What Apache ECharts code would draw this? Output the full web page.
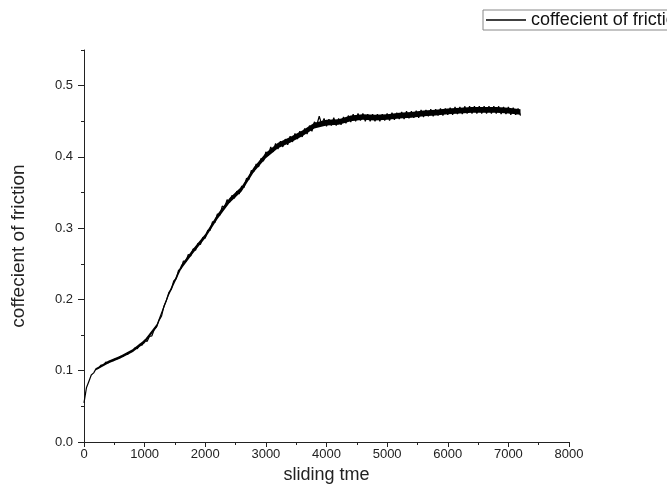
<!DOCTYPE html>
<html>
<head>
<meta charset="utf-8">
<script src="https://cdn.jsdelivr.net/npm/echarts@6/dist/echarts.min.js"></script>
<style>
  html, body { margin: 0; padding: 0; background: #fff; }
  #chart { width: 667px; height: 501px; }
</style>
</head>
<body>
<div id="chart"></div>
<script>
// noisy trace: one sample every 40 units of sliding time, 0..7200
const timeStep = 40
const friction = [
  0.055, 0.076, 0.085, 0.094, 0.097, 0.103, 0.104, 0.108, 0.108, 0.112,
  0.111, 0.114, 0.114, 0.117, 0.117, 0.120, 0.120, 0.123, 0.123, 0.127,
  0.127, 0.132, 0.131, 0.137, 0.136, 0.143, 0.141, 0.148, 0.149, 0.158,
  0.162, 0.171, 0.177, 0.191, 0.199, 0.210, 0.214, 0.226, 0.229, 0.241,
  0.243, 0.254, 0.253, 0.263, 0.261, 0.271, 0.269, 0.279, 0.277, 0.287,
  0.286, 0.297, 0.297, 0.309, 0.308, 0.320, 0.318, 0.331, 0.329, 0.340,
  0.336, 0.346, 0.342, 0.352, 0.348, 0.359, 0.357, 0.370, 0.368, 0.381,
  0.379, 0.390, 0.386, 0.398, 0.394, 0.407, 0.402, 0.414, 0.407, 0.419,
  0.411, 0.422, 0.414, 0.425, 0.417, 0.429, 0.421, 0.433, 0.425, 0.436,
  0.428, 0.440, 0.432, 0.444, 0.436, 0.449, 0.445, 0.457, 0.446, 0.454,
  0.443, 0.453, 0.444, 0.455, 0.444, 0.454, 0.445, 0.456, 0.447, 0.458,
  0.449, 0.460, 0.450, 0.461, 0.451, 0.461, 0.450, 0.460, 0.450, 0.460,
  0.450, 0.460, 0.450, 0.460, 0.451, 0.461, 0.451, 0.462, 0.452, 0.462,
  0.453, 0.463, 0.453, 0.464, 0.454, 0.464, 0.455, 0.465, 0.455, 0.466,
  0.456, 0.466, 0.457, 0.467, 0.457, 0.467, 0.458, 0.468, 0.458, 0.468,
  0.459, 0.469, 0.459, 0.470, 0.460, 0.470, 0.460, 0.471, 0.461, 0.471,
  0.461, 0.471, 0.461, 0.471, 0.461, 0.471, 0.461, 0.471, 0.461, 0.471,
  0.461, 0.471, 0.460, 0.470, 0.460, 0.470, 0.459, 0.469, 0.459, 0.468,
  0.458
]
// noise band of the trace: centre and half thickness every 200 units, 200..7200
const bandStart = 200
const bandStep = 200
const bandBase = [
  0.102, 0.112, 0.119, 0.128, 0.141, 0.163, 0.208, 0.245, 0.268,
  0.289, 0.316, 0.339, 0.355, 0.382, 0.402, 0.416, 0.424, 0.433, 0.444,
  0.448, 0.449, 0.454, 0.456, 0.455, 0.456, 0.458, 0.459, 0.461, 0.462,
  0.464, 0.465, 0.466, 0.466, 0.466, 0.465, 0.463
]
const bandHalf = [
  0.0015, 0.002, 0.002, 0.002, 0.0025, 0.0025, 0.0025, 0.003, 0.003,
  0.003, 0.0035, 0.0035, 0.0035, 0.0035, 0.004, 0.004, 0.004, 0.004, 0.004,
  0.004, 0.004, 0.004, 0.004, 0.004, 0.004, 0.004, 0.004, 0.004, 0.004,
  0.004, 0.004, 0.004, 0.004, 0.004, 0.004, 0.004
]
const yMajorTicks = [0, 0.1, 0.2, 0.3, 0.4, 0.5]

const points = friction.map((v, i) => [i * timeStep, v])

const font = 'Liberation Sans, Arial, sans-serif'
const chart = echarts.init(document.getElementById('chart'))

// band drawn as one polygon: upper edge forward, lower edge back
function renderBand(params, api) {
  const at = i => bandStart + i * bandStep
  const upper = bandBase.map((v, i) => api.coord([at(i), v + bandHalf[i]]))
  const lower = bandBase.map((v, i) => api.coord([at(i), v - bandHalf[i]])).reverse()
  return {
    type: 'polygon',
    shape: { points: upper.concat(lower) },
    style: { fill: '#000' }
  }
}

chart.setOption({
  animation: false,
  backgroundColor: '#fff',
  legend: {
    left: 483,
    top: 10,
    padding: [1, 4, 1, 3],
    icon: 'rect',
    itemWidth: 40,
    itemHeight: 1.4,
    borderColor: '#888',
    borderWidth: 1,
    textStyle: { fontFamily: font, fontSize: 18, color: '#111' },
    data: ['coffecient of friction']
  },
  grid: { left: 84, right: 98, top: 50, bottom: 59 },
  xAxis: {
    type: 'value',
    min: 0,
    max: 8000,
    interval: 1000,
    name: 'sliding tme',
    nameLocation: 'middle',
    nameGap: 13,
    nameTextStyle: { fontFamily: font, fontSize: 18, color: '#222', verticalAlign: 'top' },
    axisLine: { lineStyle: { color: '#222', width: 1 } },
    axisTick: { length: 5, lineStyle: { color: '#222' } },
    minorTick: { show: true, splitNumber: 2, length: 3, lineStyle: { color: '#222' } },
    splitLine: { show: false },
    axisLabel: { fontFamily: font, fontSize: 13, color: '#222', margin: 6, formatter: v => String(v) }
  },
  yAxis: [
    {
      type: 'value',
      min: 0,
      max: 0.55,
      interval: 0.05,
      name: 'coffecient of friction',
      nameLocation: 'middle',
      nameGap: 56,
      nameTextStyle: { fontFamily: font, fontSize: 19, color: '#222' },
      axisLine: { show: true, lineStyle: { color: '#222', width: 1 } },
      axisTick: { show: true, length: 3, lineStyle: { color: '#222' } },
      splitLine: { show: false },
      axisLabel: {
        customValues: yMajorTicks,
        fontFamily: font, fontSize: 13, color: '#222', margin: 11,
        formatter: v => v.toFixed(1)
      }
    },
    {
      type: 'value',
      position: 'left',
      min: 0,
      max: 0.55,
      interval: 0.05,
      axisLine: { show: false },
      axisTick: { show: true, length: 6, customValues: yMajorTicks, lineStyle: { color: '#222' } },
      splitLine: { show: false },
      axisLabel: { show: false }
    }
  ],
  series: [
    {
      name: 'band',
      type: 'custom',
      silent: true,
      data: [[0, 0]],
      renderItem: renderBand
    },
    {
      name: 'coffecient of friction',
      type: 'line',
      symbol: 'none',
      data: points,
      lineStyle: { color: '#000', width: 1.2 },
      itemStyle: { color: '#000' }
    }
  ]
})
</script>
</body>
</html>
